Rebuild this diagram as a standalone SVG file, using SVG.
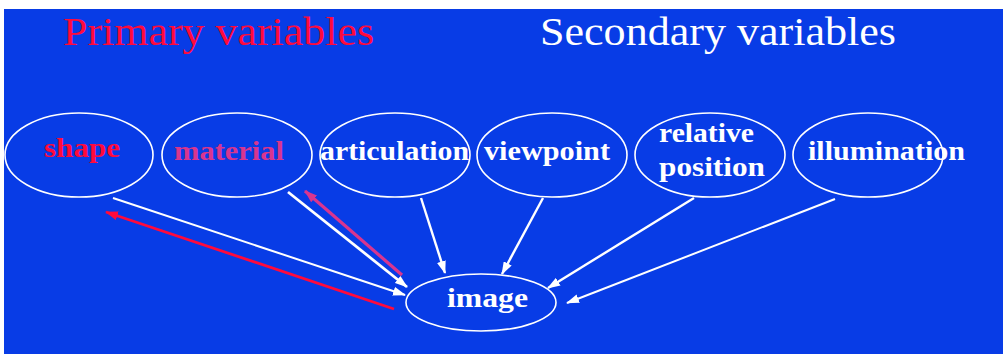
<svg xmlns="http://www.w3.org/2000/svg" width="1003" height="354" viewBox="0 0 1003 354">
<style>
.node ellipse{fill:none;stroke:#ffffff;stroke-width:1.6}
.lbl{font-family:"Liberation Serif","Times New Roman",serif;font-weight:bold;font-size:28px;fill:#ffffff}
.title{font-family:"Liberation Serif","Times New Roman",serif;font-size:39px}
.conn line{stroke:#ffffff;stroke-width:2}
</style>
<defs>
<marker id="aw" markerUnits="userSpaceOnUse" markerWidth="13" markerHeight="9" refX="12" refY="4.5" orient="auto"><path d="M0,0 L13,4.5 L0,9 Z" fill="#ffffff"/></marker>
<marker id="ar" markerUnits="userSpaceOnUse" markerWidth="13" markerHeight="9" refX="12" refY="4.5" orient="auto"><path d="M0,0 L13,4.5 L0,9 Z" fill="#ff0a3c"/></marker>
<marker id="ap" markerUnits="userSpaceOnUse" markerWidth="13" markerHeight="9" refX="12" refY="4.5" orient="auto"><path d="M0,0 L13,4.5 L0,9 Z" fill="#d8358f"/></marker>
</defs>
<rect x="0" y="0" width="1003" height="354" fill="#ffffff"/>
<rect x="4" y="9" width="999" height="345" fill="#083ce6"/>
<text class="title" x="63" y="45" fill="#ff0a3c" textLength="311" lengthAdjust="spacingAndGlyphs">Primary variables</text>
<text class="title" x="540" y="45" fill="#ffffff" textLength="356" lengthAdjust="spacingAndGlyphs">Secondary variables</text>
<g id="connectors" class="conn">
<line x1="113" y1="198" x2="405" y2="295" marker-end="url(#aw)"/>
<line x1="288" y1="192" x2="407" y2="287" style="stroke-width:2.8" marker-end="url(#aw)"/>
<line x1="402" y1="275" x2="305" y2="191" style="stroke:#d8358f;stroke-width:3.2" marker-end="url(#ap)"/>
<line x1="394" y1="309" x2="106" y2="212" style="stroke:#ff0a3c;stroke-width:2.8" marker-end="url(#ar)"/>
<line x1="421" y1="198" x2="445" y2="273" style="stroke-width:2.4" marker-end="url(#aw)"/>
<line x1="543" y1="198" x2="502" y2="274" style="stroke-width:2.4" marker-end="url(#aw)"/>
<line x1="694" y1="198" x2="548" y2="288" style="stroke-width:2.4" marker-end="url(#aw)"/>
<line x1="835" y1="199" x2="567" y2="303" marker-end="url(#aw)"/>
</g>
<g id="shape" class="node"><ellipse cx="79" cy="155" rx="74" ry="42"/><text class="lbl" x="44" y="157" style="fill:#ff0a3c" textLength="76" lengthAdjust="spacingAndGlyphs">shape</text></g>
<g id="material" class="node"><ellipse cx="237" cy="155" rx="75" ry="42"/><text class="lbl" x="174" y="160" style="fill:#d8358f" textLength="110" lengthAdjust="spacingAndGlyphs">material</text></g>
<g id="articulation" class="node"><ellipse cx="395" cy="155" rx="75" ry="42"/><text class="lbl" x="320" y="160" textLength="149" lengthAdjust="spacingAndGlyphs">articulation</text></g>
<g id="viewpoint" class="node"><ellipse cx="552" cy="155" rx="75" ry="42"/><text class="lbl" x="484" y="160" textLength="126" lengthAdjust="spacingAndGlyphs">viewpoint</text></g>
<g id="relative-position" class="node"><ellipse cx="710" cy="155" rx="75" ry="42"/><text class="lbl" x="659" y="142" textLength="95" lengthAdjust="spacingAndGlyphs">relative</text><text class="lbl" x="659" y="176" textLength="106" lengthAdjust="spacingAndGlyphs">position</text></g>
<g id="illumination" class="node"><ellipse cx="868" cy="155" rx="75" ry="42"/><text class="lbl" x="808" y="160" textLength="157" lengthAdjust="spacingAndGlyphs">illumination</text></g>
<g id="image" class="node"><ellipse cx="481" cy="302.5" rx="75" ry="28.5"/><text class="lbl" x="447" y="307" textLength="81" lengthAdjust="spacingAndGlyphs">image</text></g>
</svg>
